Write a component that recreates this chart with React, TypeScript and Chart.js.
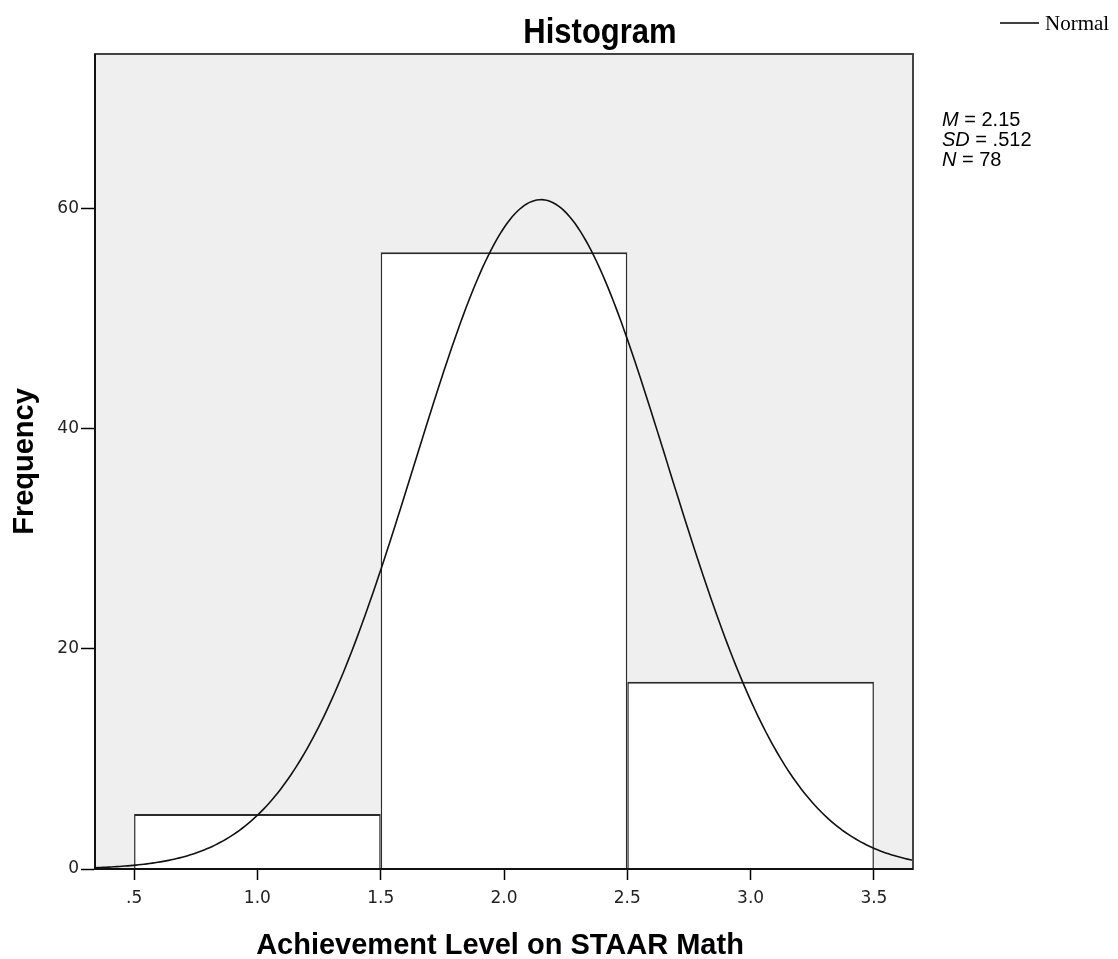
import React, { useEffect, useRef } from "react";
import { Chart, registerables } from "chart.js";

Chart.register(...registerables);

// ---- data ----
const BIN_CENTERS = [1.0, 2.0, 3.0];
const BIN_COUNTS = [5, 56, 17];
const X_TICKS = [0.5, 1.0, 1.5, 2.0, 2.5, 3.0, 3.5];
const X_TICK_LABELS = [".5", "1.0", "1.5", "2.0", "2.5", "3.0", "3.5"];
const Y_TICKS = [0, 20, 40, 60];
const Y_TICK_LABELS = ["0", "20", "40", "60"];
const X_RANGE = [0.3415, 3.6585];
const Y_RANGE = [0, 74];
// statistics shown in the chart (normal curve = N * binWidth * pdf)
const STAT_MEAN = 2.15;
const STAT_SD = 0.512;
const STAT_N = 78;
const BIN_WIDTH = 1;
const TICK_STEP = 0.5;
const STAT_LINES: [string, string][] = [
  ["M", " = 2.15"],
  ["SD", " = .512"],
  ["N", " = 78"],
];
const TITLE = "Histogram";
const X_TITLE = "Achievement Level on STAAR Math";
const Y_TITLE = "Frequency";
const LEGEND_LABEL = "Normal";

function normalCurve(): { x: number; y: number }[] {
  const pts: { x: number; y: number }[] = [];
  const steps = 300;
  const k = (STAT_N * BIN_WIDTH) / (STAT_SD * Math.sqrt(2 * Math.PI));
  for (let i = 0; i <= steps; i++) {
    const x = X_RANGE[0] + ((X_RANGE[1] - X_RANGE[0]) * i) / steps;
    const z = (x - STAT_MEAN) / STAT_SD;
    pts.push({ x, y: k * Math.exp(-0.5 * z * z) });
  }
  return pts;
}

const decorPlugin = {
  id: "decor",
  beforeDraw(chart: any) {
    const { ctx, chartArea: a } = chart;
    ctx.save();
    ctx.fillStyle = "#ffffff";
    ctx.fillRect(0, 0, chart.width, chart.height);
    ctx.fillStyle = "#efefef";
    ctx.fillRect(a.left, a.top, a.right - a.left, a.bottom - a.top);
    ctx.restore();
  },
  afterDraw(chart: any) {
    const { ctx, chartArea: a } = chart;
    ctx.save();
    // frame
    ctx.strokeStyle = "#444444";
    ctx.lineWidth = 2;
    ctx.strokeRect(a.left, a.top, a.right - a.left, a.bottom - a.top);
    // axis lines
    ctx.strokeStyle = "#000000";
    ctx.lineWidth = 1.5;
    ctx.beginPath();
    ctx.moveTo(a.left, a.top);
    ctx.lineTo(a.left, a.bottom);
    ctx.lineTo(a.right, a.bottom);
    ctx.stroke();

    ctx.fillStyle = "#000000";
    ctx.textBaseline = "alphabetic";
    // title
    ctx.save();
    ctx.translate(600, 43);
    ctx.scale(1, 1.12);
    ctx.font = "bold 31px 'Liberation Sans', Arial, sans-serif";
    ctx.textAlign = "center";
    ctx.fillText(TITLE, 0, 0);
    ctx.restore();
    // x title
    ctx.font = "bold 29px 'Liberation Sans', Arial, sans-serif";
    ctx.textAlign = "center";
    ctx.fillText(X_TITLE, 500, 954);
    // y title
    ctx.save();
    ctx.translate(33, (a.top + a.bottom) / 2);
    ctx.rotate(-Math.PI / 2);
    ctx.fillText(Y_TITLE, 0, 0);
    ctx.restore();

    // stats
    ctx.textAlign = "left";
    let y = 126;
    for (const [k, v] of STAT_LINES) {
      ctx.font = "italic 20px 'Liberation Sans', Arial, sans-serif";
      ctx.fillText(k, 942, y);
      const w = ctx.measureText(k).width;
      ctx.font = "20px 'Liberation Sans', Arial, sans-serif";
      ctx.fillText(v, 942 + w, y);
      y += 20;
    }

    // legend
    ctx.strokeStyle = "#000000";
    ctx.lineWidth = 1.5;
    ctx.beginPath();
    ctx.moveTo(1000, 23);
    ctx.lineTo(1039, 23);
    ctx.stroke();
    ctx.font = "21px 'Liberation Serif', 'DejaVu Serif', serif";
    ctx.fillText(LEGEND_LABEL, 1045, 30);
    ctx.restore();
  },
};

export default function App() {
  const ref = useRef<HTMLCanvasElement | null>(null);
  useEffect(() => {
    document.body.style.margin = "0";
    const canvas = ref.current;
    if (!canvas) return;
    const chart = new Chart(canvas, {
      type: "bar",
      data: {
        datasets: [
          {
            type: "line",
            label: LEGEND_LABEL,
            data: normalCurve(),
            borderColor: "#111111",
            borderWidth: 1.6,
            pointRadius: 0,
            fill: false,
            tension: 0,
            order: 0,
          } as any,
          {
            type: "bar",
            label: "Frequency",
            data: BIN_CENTERS.map((x, i) => ({ x, y: BIN_COUNTS[i] })),
            backgroundColor: "#ffffff",
            borderColor: "#2b2b2b",
            borderWidth: { left: 1.5, right: 1.5, top: 2, bottom: 0 },
            borderSkipped: false,
            // Chart.js measures the narrowest gap (the 0.5 tick step); a bin spans BIN_WIDTH
            barPercentage: BIN_WIDTH / TICK_STEP,
            categoryPercentage: 1,
            order: 1,
          } as any,
        ],
      },
      options: {
        animation: false,
        responsive: false,
        maintainAspectRatio: false,
        layout: { padding: { left: 0, top: 54, right: 205, bottom: 0 } },
        plugins: {
          legend: { display: false },
          title: { display: false },
          tooltip: { enabled: false },
        },
        scales: {
          x: {
            type: "linear",
            offset: false,
            min: X_RANGE[0],
            max: X_RANGE[1],
            afterBuildTicks: (s: any) => {
              s.ticks = X_TICKS.map((v) => ({ value: v }));
            },
            afterFit: (s: any) => {
              s.height = 90;
            },
            grid: {
              display: true,
              offset: false,
              drawOnChartArea: false,
              drawTicks: true,
              tickLength: 11,
              tickWidth: 1.5,
              color: "#000000",
            },
            border: { display: true, color: "#000000", width: 1.5 },
            ticks: {
              padding: 8,
              color: "#222222",
              font: { family: "'DejaVu Sans', sans-serif", size: 17 },
              callback: (v: any) => {
                const i = X_TICKS.findIndex((t) => Math.abs(t - Number(v)) < 1e-6);
                return i >= 0 ? X_TICK_LABELS[i] : "";
              },
            },
          },
          y: {
            type: "linear",
            min: Y_RANGE[0],
            max: Y_RANGE[1],
            afterBuildTicks: (s: any) => {
              s.ticks = Y_TICKS.map((v) => ({ value: v }));
            },
            afterFit: (s: any) => {
              s.width = 95;
            },
            grid: {
              display: true,
              drawOnChartArea: false,
              drawTicks: true,
              tickLength: 14,
              tickWidth: 1.5,
              color: "#000000",
            },
            border: { display: true, color: "#000000", width: 1.5 },
            ticks: {
              padding: 2,
              color: "#222222",
              font: { family: "'DejaVu Sans', sans-serif", size: 17 },
              callback: (v: any) => {
                const i = Y_TICKS.findIndex((t) => Math.abs(t - Number(v)) < 1e-6);
                return i >= 0 ? Y_TICK_LABELS[i] : "";
              },
            },
          },
        },
      },
      plugins: [decorPlugin],
    });
    return () => chart.destroy();
  }, []);
  return (
    <div style={{ position: "absolute", left: 0, top: 0, width: 1118, height: 959 }}>
      <canvas ref={ref} width={1118} height={959} style={{ display: "block", width: 1118, height: 959 }} />
    </div>
  );
}
